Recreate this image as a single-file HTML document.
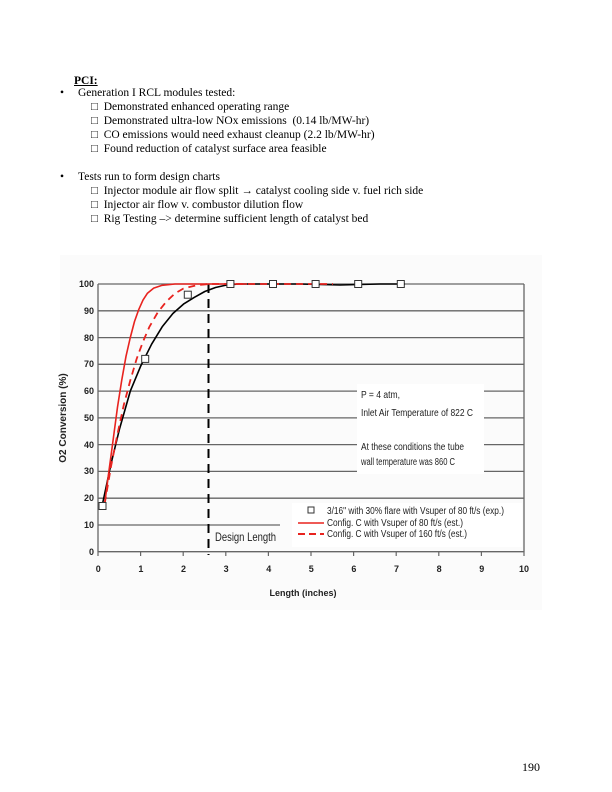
<!DOCTYPE html>
<html><head><meta charset="utf-8"><style>
body{margin:0;width:612px;height:792px;background:#fff;position:relative;overflow:hidden;font-family:"Liberation Serif",serif;font-size:11.5px;color:#000}
.t{position:absolute;white-space:nowrap;line-height:14px}
</style></head><body>
<div class="t" style="left:74px;top:74px;font-weight:bold;text-decoration:underline">PCI:</div>
<div class="t" style="left:60px;top:86px">•</div>
<div class="t" style="left:78px;top:86px">Generation I RCL modules tested:</div>
<div class="t" style="left:91px;top:100px">□&nbsp;&nbsp;Demonstrated enhanced operating range</div>
<div class="t" style="left:91px;top:114px">□&nbsp;&nbsp;Demonstrated ultra-low NOx emissions&nbsp; (0.14 lb/MW-hr)</div>
<div class="t" style="left:91px;top:128px">□&nbsp;&nbsp;CO emissions would need exhaust cleanup (2.2 lb/MW-hr)</div>
<div class="t" style="left:91px;top:142px">□&nbsp;&nbsp;Found reduction of catalyst surface area feasible</div>
<div class="t" style="left:60px;top:170px">•</div>
<div class="t" style="left:78px;top:170px">Tests run to form design charts</div>
<div class="t" style="left:91px;top:184px">□&nbsp;&nbsp;Injector module air flow split <b>→</b> catalyst cooling side v. fuel rich side</div>
<div class="t" style="left:91px;top:198px">□&nbsp;&nbsp;Injector air flow v. combustor dilution flow</div>
<div class="t" style="left:91px;top:212px">□&nbsp;&nbsp;Rig Testing –&gt; determine sufficient length of catalyst bed</div>
<div class="t" style="left:522px;top:760px;font-size:12px">190</div>
<svg width="612" height="792" style="position:absolute;left:0;top:0" font-family="Liberation Sans, sans-serif">
<rect x="60" y="255" width="482" height="355" fill="#fbfbfb"/>
<g stroke="#666" stroke-width="1.3">
<line x1="98" y1="284" x2="524" y2="284"/>
<line x1="98" y1="310.8" x2="524" y2="310.8"/>
<line x1="98" y1="337.6" x2="524" y2="337.6"/>
<line x1="98" y1="364.3" x2="524" y2="364.3"/>
<line x1="98" y1="391.1" x2="524" y2="391.1"/>
<line x1="98" y1="417.9" x2="524" y2="417.9"/>
<line x1="98" y1="444.6" x2="524" y2="444.6"/>
<line x1="98" y1="471.4" x2="524" y2="471.4"/>
<line x1="98" y1="498.2" x2="524" y2="498.2"/>
<line x1="98" y1="525" x2="280" y2="525"/>
<line x1="98" y1="551.7" x2="524" y2="551.7"/>
<line x1="98" y1="284" x2="98" y2="552"/>
<line x1="524" y1="284" x2="524" y2="552"/>
</g>
<rect x="357" y="384" width="127" height="90" fill="#fff"/>
<rect x="292" y="503" width="230" height="44" fill="#fff"/>
<g stroke="#666" stroke-width="1.2">
<line x1="98" y1="552" x2="98" y2="556"/><line x1="140.6" y1="552" x2="140.6" y2="556"/><line x1="183.2" y1="552" x2="183.2" y2="556"/><line x1="225.8" y1="552" x2="225.8" y2="556"/><line x1="268.4" y1="552" x2="268.4" y2="556"/><line x1="311" y1="552" x2="311" y2="556"/><line x1="353.6" y1="552" x2="353.6" y2="556"/><line x1="396.2" y1="552" x2="396.2" y2="556"/><line x1="438.8" y1="552" x2="438.8" y2="556"/><line x1="481.4" y1="552" x2="481.4" y2="556"/><line x1="524" y1="552" x2="524" y2="556"/>
</g>
<g font-size="9" font-weight="bold" text-anchor="end" fill="#222">
<text x="94" y="287">100</text><text x="94" y="314">90</text><text x="94" y="341">80</text><text x="94" y="367">70</text><text x="94" y="394">60</text><text x="94" y="421">50</text><text x="94" y="448">40</text><text x="94" y="474">30</text><text x="94" y="501">20</text><text x="94" y="528">10</text><text x="94" y="555">0</text>
</g>
<g font-size="9" font-weight="bold" text-anchor="middle" fill="#222">
<text x="98.3" y="572">0</text><text x="140.9" y="572">1</text><text x="183.5" y="572">2</text><text x="226.1" y="572">3</text><text x="268.7" y="572">4</text><text x="311.3" y="572">5</text><text x="353.9" y="572">6</text><text x="396.5" y="572">7</text><text x="439.1" y="572">8</text><text x="481.7" y="572">9</text><text x="524" y="572">10</text>
</g>
<text x="303" y="596" font-size="9" font-weight="bold" text-anchor="middle" fill="#222">Length (inches)</text>
<text transform="translate(66,418) rotate(-90)" font-size="10" font-weight="bold" text-anchor="middle" fill="#222">O2 Conversion (%)</text>
<line x1="208.5" y1="284" x2="208.5" y2="555" stroke="#000" stroke-width="2" stroke-dasharray="9,6"/>
<text x="215" y="541" font-size="12" fill="#222" textLength="61" lengthAdjust="spacingAndGlyphs">Design Length</text>
<polyline points="102.6,503.5 111.1,463.4 119.6,428.6 130.3,391.1 140.9,365.6 151.6,344.2 162.2,326.8 172.9,313.5 183.5,304.1 194.2,297.4 204.8,291.5 215.5,287.5 226.1,285.1 238.9,284 300,284 340,285 380,284 405,284" fill="none" stroke="#000" stroke-width="1.6" stroke-linejoin="round"/>
<polyline points="104.7,503.5 108.9,471.4 113.2,439.3 117.5,407.1 121.7,380.4 126,356.3 130.3,337.5 134.5,321.5 138.8,309.4 143,300.1 147.3,293.4 153.7,288.1 162.2,285.3 175,284 247,284" fill="none" stroke="#e8231f" stroke-width="1.6" stroke-linejoin="round"/>
<polyline points="104.7,503.5 111.1,466 117.5,433.9 123.9,404.5 130.3,380.4 136.6,359 143,341.6 149.4,326.8 157.9,312.1 166.5,301.4 175,293.4 183.5,288.5 196.3,285.3 209.1,284 333,284" fill="none" stroke="#e8231f" stroke-width="1.8" stroke-dasharray="7,5" stroke-linejoin="round"/>
<g fill="#fff" stroke="#333" stroke-width="1">
<rect x="99" y="502.5" width="7" height="7"/><rect x="141.7" y="355.4" width="7" height="7"/><rect x="184.3" y="291.2" width="7" height="7"/><rect x="226.9" y="280.5" width="7" height="7"/><rect x="269.5" y="280.5" width="7" height="7"/><rect x="312.1" y="280.5" width="7" height="7"/><rect x="354.7" y="280.5" width="7" height="7"/><rect x="397.3" y="280.5" width="7" height="7"/>
</g>
<g font-size="10" fill="#222" lengthAdjust="spacingAndGlyphs">
<text x="361" y="398" textLength="39" lengthAdjust="spacingAndGlyphs">P = 4 atm,</text>
<text x="361" y="416" textLength="112" lengthAdjust="spacingAndGlyphs">Inlet Air Temperature of 822 C</text>
<text x="361" y="450" textLength="103" lengthAdjust="spacingAndGlyphs">At these conditions the tube</text>
<text x="361" y="465" textLength="94" lengthAdjust="spacingAndGlyphs">wall temperature was 860 C</text>
<text x="327" y="514" textLength="177" lengthAdjust="spacingAndGlyphs">3/16" with 30% flare with Vsuper of 80 ft/s (exp.)</text>
<text x="327" y="526" textLength="136" lengthAdjust="spacingAndGlyphs">Config. C with Vsuper of 80 ft/s (est.)</text>
<text x="327" y="537" textLength="140" lengthAdjust="spacingAndGlyphs">Config. C with Vsuper of 160 ft/s (est.)</text>
</g>
<rect x="308" y="507" width="6" height="6" fill="#fff" stroke="#333"/>
<line x1="298" y1="523" x2="324" y2="523" stroke="#e8231f" stroke-width="1.6"/>
<line x1="298" y1="534" x2="324" y2="534" stroke="#e8231f" stroke-width="2" stroke-dasharray="7,4"/>
</svg>
</body></html>
